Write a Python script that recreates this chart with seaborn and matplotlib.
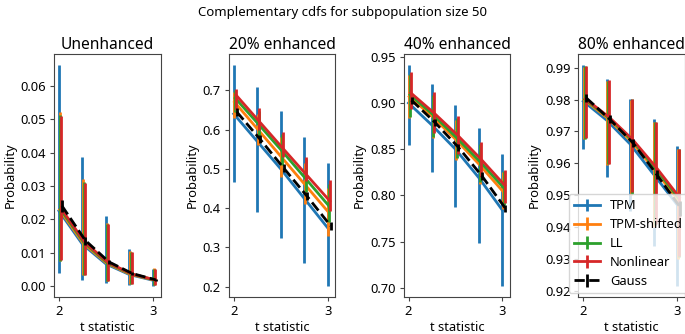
import numpy as np
import matplotlib
matplotlib.use("Agg")
import matplotlib.pyplot as plt
from matplotlib.legend_handler import HandlerTuple
import seaborn as sns

plt.rcParams['font.family'] = ['Noto Sans', 'DejaVu Sans']

x = np.array([2.0, 2.25, 2.5, 2.75, 3.0])
series = ['TPM', 'TPM-shifted', 'LL', 'Nonlinear', 'Gauss']
titles = ['Unenhanced', '20% enhanced', '40% enhanced', '80% enhanced']

# rows follow `series`
unenh_mid = [[0.0225, 0.0125, 0.0066, 0.0034, 0.0017],
             [0.0228, 0.0128, 0.0068, 0.0035, 0.0018],
             [0.0230, 0.0130, 0.0069, 0.0036, 0.0018],
             [0.0232, 0.0131, 0.0070, 0.0036, 0.0018],
             [0.0240, 0.0136, 0.0072, 0.0037, 0.0018]]
unenh_lo = [[0.0040, 0.0017, 0.0010, 0.0002, 0.0000],
            [0.0075, 0.0033, 0.0015, 0.0007, 0.0002],
            [0.0076, 0.0034, 0.0015, 0.0007, 0.0002],
            [0.0077, 0.0034, 0.0015, 0.0007, 0.0002],
            [0.0222, 0.0124, 0.0066, 0.0033, 0.0015]]
unenh_hi = [[0.0662, 0.0387, 0.0210, 0.0110, 0.0050],
            [0.0520, 0.0320, 0.0190, 0.0105, 0.0053],
            [0.0512, 0.0313, 0.0187, 0.0102, 0.0052],
            [0.0510, 0.0310, 0.0185, 0.0101, 0.0051],
            [0.0257, 0.0146, 0.0079, 0.0041, 0.0021]]

enh20_mid = [[0.640, 0.570, 0.500, 0.425, 0.350],
             [0.670, 0.600, 0.530, 0.460, 0.390],
             [0.680, 0.613, 0.545, 0.475, 0.405],
             [0.688, 0.620, 0.552, 0.485, 0.418],
             [0.645, 0.575, 0.502, 0.430, 0.355]]
enh20_lo = [[0.466, 0.389, 0.324, 0.260, 0.202],
            [0.630, 0.560, 0.480, 0.410, 0.330],
            [0.645, 0.580, 0.510, 0.440, 0.365],
            [0.650, 0.598, 0.530, 0.470, 0.393],
            [0.635, 0.565, 0.492, 0.420, 0.345]]
enh20_hi = [[0.764, 0.709, 0.647, 0.582, 0.515],
            [0.695, 0.640, 0.580, 0.515, 0.450],
            [0.700, 0.648, 0.588, 0.525, 0.462],
            [0.704, 0.656, 0.594, 0.531, 0.472],
            [0.655, 0.585, 0.512, 0.440, 0.365]]

enh40_mid = [[0.900, 0.876, 0.850, 0.819, 0.784],
             [0.907, 0.885, 0.860, 0.833, 0.804],
             [0.909, 0.887, 0.862, 0.836, 0.808],
             [0.911, 0.889, 0.865, 0.839, 0.811],
             [0.903, 0.879, 0.852, 0.821, 0.786]]
enh40_lo = [[0.855, 0.825, 0.787, 0.748, 0.702],
            [0.884, 0.862, 0.838, 0.812, 0.785],
            [0.885, 0.863, 0.840, 0.815, 0.790],
            [0.893, 0.868, 0.845, 0.820, 0.792],
            [0.899, 0.875, 0.848, 0.817, 0.782]]
enh40_hi = [[0.941, 0.921, 0.898, 0.873, 0.845],
            [0.930, 0.908, 0.882, 0.855, 0.825],
            [0.931, 0.909, 0.884, 0.856, 0.826],
            [0.934, 0.912, 0.886, 0.858, 0.828],
            [0.907, 0.883, 0.856, 0.825, 0.790]]

enh80_mid = [[0.9795, 0.9735, 0.9660, 0.9565, 0.9470],
             [0.9800, 0.9742, 0.9670, 0.9580, 0.9485],
             [0.9801, 0.9744, 0.9673, 0.9585, 0.9490],
             [0.9802, 0.9745, 0.9675, 0.9588, 0.9493],
             [0.9805, 0.9738, 0.9663, 0.9565, 0.9462]]
enh80_lo = [[0.9646, 0.9557, 0.9450, 0.9340, 0.9215],
            [0.9675, 0.9595, 0.9500, 0.9400, 0.9300],
            [0.9676, 0.9597, 0.9505, 0.9405, 0.9305],
            [0.9678, 0.9598, 0.9510, 0.9410, 0.9310],
            [0.9793, 0.9725, 0.9650, 0.9550, 0.9435]]
enh80_hi = [[0.9908, 0.9863, 0.9803, 0.9740, 0.9654],
            [0.9903, 0.9858, 0.9800, 0.9728, 0.9645],
            [0.9904, 0.9859, 0.9801, 0.9729, 0.9645],
            [0.9905, 0.9860, 0.9802, 0.9730, 0.9646],
            [0.9817, 0.9751, 0.9676, 0.9580, 0.9480]]

panels = [(unenh_mid, unenh_lo, unenh_hi),
          (enh20_mid, enh20_lo, enh20_hi),
          (enh40_mid, enh40_lo, enh40_hi),
          (enh80_mid, enh80_lo, enh80_hi)]

pal = sns.color_palette('tab10')
colors = [pal[0], pal[1], pal[2], pal[3], 'black']
styles = ['-', '-', '-', '-', '--']
offsets = [0.0, 0.008, 0.016, 0.024, 0.032]

fig, axes = plt.subplots(1, 4, figsize=(6.85, 3.34), dpi=100)
plt.subplots_adjust(left=0.079, right=1.0, top=0.838, bottom=0.111, wspace=0.64)

handles = []
for ax, title, (mid, lo, hi) in zip(axes, titles, panels):
    handles = []
    for i, name in enumerate(series):
        m = np.array(mid[i])
        yerr = [m - np.array(lo[i]), np.array(hi[i]) - m]
        xs = x + offsets[i]
        sns.lineplot(x=xs, y=m, ax=ax, color=colors[i], linestyle=styles[i], lw=2)
        eb = ax.errorbar(xs, m, yerr=yerr, fmt='none', ecolor=colors[i], elinewidth=2)
        handles.append((ax.lines[-1], eb))
    ax.set_title(title, fontsize=11.2, pad=4)
    ax.set_xticks([2, 3])
    ax.set_xlabel('t statistic', fontsize=9.3, labelpad=2)
    ax.set_ylabel('Probability', fontsize=9.3, labelpad=3)
    ax.tick_params(labelsize=9.3, length=3.2, pad=2.5, color='#444444')
    for s in ax.spines.values():
        s.set_color('#444444')

axes[3].legend(handles, series, handler_map={tuple: HandlerTuple(ndivide=1)},
               loc='lower left', bbox_to_anchor=(-0.15, -0.01), fontsize=9.3,
               handlelength=2.0, labelspacing=0.45)

fig.suptitle('Complementary cdfs for subpopulation size 50', fontsize=9.5, y=0.964, va='center')
fig.savefig('out.png', dpi=100)
